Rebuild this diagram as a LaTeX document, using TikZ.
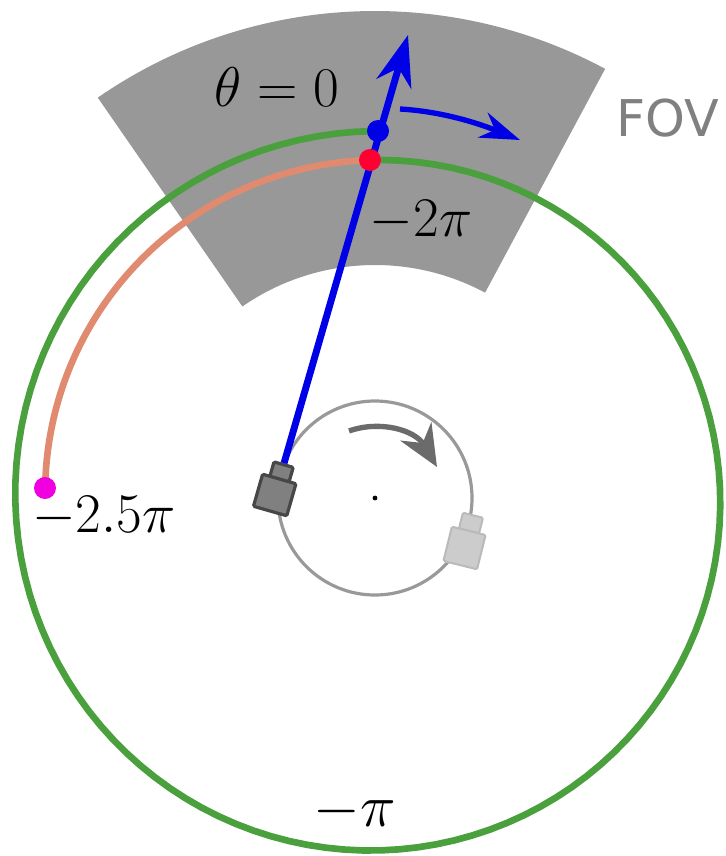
\documentclass[tikz,border=0pt]{standalone}
\usepackage{fix-cm}
\usepackage{amsmath,amssymb}
\usepackage{fontspec}
\usepackage{xcolor}
\usetikzlibrary{positioning,arrows.meta,calc}
\newfontfamily\fovfont{DejaVu Sans}
\definecolor{fovgray}{RGB}{152,152,152}
\definecolor{spiralgreen}{RGB}{74,160,60}
\definecolor{spiralorange}{RGB}{224,138,112}
\definecolor{rayblue}{RGB}{0,0,230}
\definecolor{dotred}{RGB}{255,0,51}
\definecolor{dotmagenta}{RGB}{240,0,224}
\tikzset{
  lbl/.style      = {inner sep=0pt, font=\fontsize{42}{46}\selectfont},
  spiral/.style   = {line width=5pt, variable=\a, samples=120},
  dot/.style      = {circle, inner sep=0pt, minimum size=16.5pt},
  cam/.style      = {draw=black!72, fill=black!50, line width=2.4pt, rounded corners=1pt, inner sep=0pt, rotate=-16},
  camlight/.style = {draw=black!27, fill=black!20, line width=1.5pt, rounded corners=1pt, inner sep=0pt, rotate=-14},
  ray/.style      = {-{Stealth[length=38pt,width=27pt]}, line width=5.2pt, draw=rayblue},
  turn/.style     = {-{Stealth[length=30pt,width=20pt]}, line width=4pt, draw=rayblue},
}
\begin{document}
\begin{tikzpicture}[x=0.75pt,y=-0.75pt]
  \useasboundingbox (0,0) rectangle (725,856);
  % field of view
  \fill[fovgray] plot[variable=\a, domain=61.8:124.7, samples=60] ({375+487*cos(\a)},{498-487*sin(\a)})
    -- plot[variable=\a, domain=124.7:61.8, samples=60] ({375+233*cos(\a)},{498-233*sin(\a)}) -- cycle;
  % spiral
  \draw[spiral, spiralgreen] plot[domain=90:449] ({375+(367-29*(\a-90)/360)*cos(\a)},{498-(367-29*(\a-90)/360)*sin(\a)});
  \draw[spiral, spiralorange] plot[domain=91:178] ({375+(338-8*(\a-91)/87)*cos(\a)},{498-(338-8*(\a-91)/87)*sin(\a)});
  % rotation
  \coordinate (c) at (375,498);
  \draw[black!40, line width=2.4pt] (c) circle [radius=97];
  \node[circle, fill=black, inner sep=0pt, minimum size=3.6pt] (cdot) at (c) {};
  \coordinate (turnA) at (349,431);
  \coordinate (turnB) at (437,467);
  \draw[-{Stealth[length=31pt,width=27pt]}, line width=4pt, draw=black!58] (turnA) .. controls (380,420) and (415,430) .. (turnB);
  % cameras
  \node[cam, minimum width=15pt, minimum height=11.5pt] (lens) at (281.5,472) {};
  \node[cam, minimum width=26pt, minimum height=25pt] (body) at (274.7,495) {};
  \node[camlight, minimum width=15.5pt, minimum height=12pt] (lens2) at (471,523) {};
  \node[camlight, minimum width=26pt, minimum height=26.5pt] (body2) at (464.5,548) {};
  % ray
  \coordinate (rayend) at (408,35);
  \draw[ray] (lens.north) -- (rayend);
  \coordinate (turnC) at (400,109);
  \coordinate (turnD) at (520,140);
  \draw[turn] (turnC) .. controls (435,111) and (470,120) .. (turnD);
  \node[dot, fill=rayblue] (bdot) at (378,131) {};
  \node[dot, fill=dotred] (rdot) at (370,160) {};
  \node[dot, fill=dotmagenta] (mdot) at (45,488) {};
  % labels
  \node[lbl] (t0) at (277,87) {$\theta=0$};
  \node[lbl] (t2) at (421,221) {$-2\pi$};
  \node[lbl] (t25) at (104,517) {$-2.5\pi$};
  \node[lbl, font=\fontsize{45}{49}\selectfont] (t1) at (355,811) {$-\pi$};
  \node[inner sep=0pt, text=black!50, font=\fovfont\fontsize{38}{42}\selectfont] (fov) at (668,118) {FOV};
\end{tikzpicture}
\end{document}
